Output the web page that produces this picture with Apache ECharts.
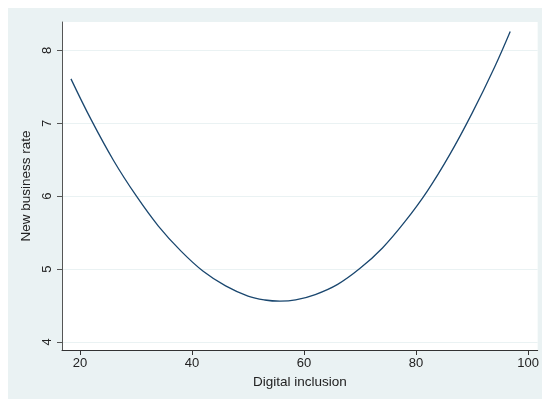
<!DOCTYPE html>
<html>
<head>
<meta charset="utf-8">
<script src="https://cdn.jsdelivr.net/npm/echarts@6/dist/echarts.min.js"></script>
<style>
  html, body { margin: 0; padding: 0; background: #fff; }
  #chart { width: 542px; height: 399px; }
</style>
</head>
<body>
<div id="chart"></div>
<script>
// values
var inclusion = [18.4, 22, 26, 30, 34, 38, 42, 46, 50, 53, 55.7, 58.5, 62, 66, 70, 74, 78, 82, 86, 90, 94, 96.8];
var businessRate = [7.61, 7.05, 6.49, 6.01, 5.59, 5.25, 4.97, 4.77, 4.63, 4.576, 4.56, 4.577, 4.65, 4.79, 5.01, 5.29, 5.65, 6.07, 6.57, 7.14, 7.77, 8.26];
var xTicks = [20, 40, 60, 80, 100];
var yTicks = [4, 5, 6, 7, 8];

var points = inclusion.map(function (x, i) { return [x, businessRate[i]]; });

var myChart = echarts.init(document.getElementById('chart'));

var font = 'Liberation Sans, Arial, sans-serif';

var option = {
  backgroundColor: '#ffffff',
  animation: false,
  graphic: [{
    type: 'rect',
    z: -10,
    shape: { x: 8, y: 8, width: 534, height: 391 },
    style: { fill: '#EAF2F3' },
    silent: true
  }],
  grid: {
    left: 62, right: 3, top: 22, bottom: 49,
    show: true, backgroundColor: '#ffffff', borderWidth: 0
  },
  xAxis: {
    type: 'value',
    min: 16.8, max: 101.7,
    name: 'Digital inclusion',
    nameLocation: 'middle',
    nameGap: 25,
    nameTextStyle: { fontFamily: font, fontSize: 13.5, color: '#222' },
    axisLine: { show: true, lineStyle: { color: '#333', width: 1 } },
    axisTick: { show: true, customValues: xTicks, length: 5, lineStyle: { color: '#333' } },
    axisLabel: { customValues: xTicks, margin: 7, fontFamily: font, fontSize: 13, color: '#222' },
    splitLine: { show: false }
  },
  yAxis: {
    type: 'value',
    min: 3.89, max: 8.39,
    name: 'New business rate',
    nameLocation: 'middle',
    nameRotate: 90,
    nameGap: 28,
    nameTextStyle: { fontFamily: font, fontSize: 13.5, color: '#222' },
    axisLine: { show: true, lineStyle: { color: '#555', width: 1 } },
    axisTick: { show: true, customValues: yTicks, length: 5, lineStyle: { color: '#555' } },
    axisLabel: { customValues: yTicks, rotate: 90, margin: 8, fontFamily: font, fontSize: 13, color: '#222' },
    splitLine: { show: true, lineStyle: { color: '#EAF2F3', width: 1 } }
  },
  series: [{
    type: 'line',
    data: points,
    smooth: 0.4,
    showSymbol: false,
    lineStyle: { color: '#1A476F', width: 1.3 }
  }]
};

myChart.setOption(option);
</script>
</body>
</html>
